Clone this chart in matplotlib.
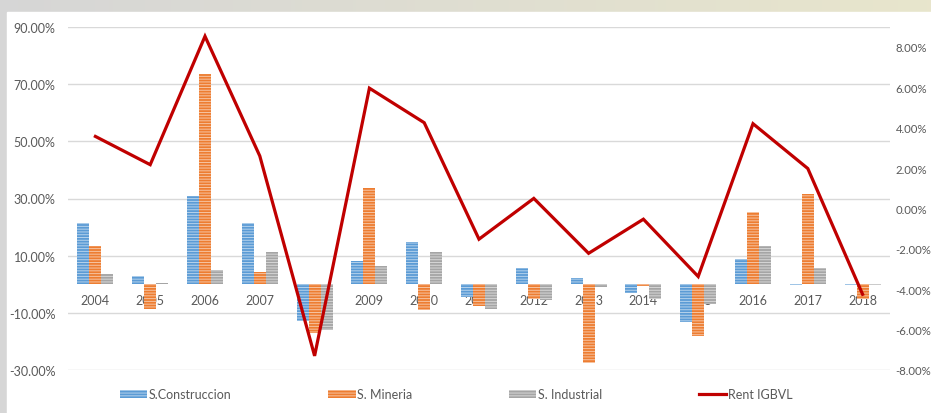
import matplotlib
matplotlib.use("Agg")
import matplotlib.pyplot as plt
import numpy as np
from matplotlib.patches import Rectangle, Patch
from matplotlib.lines import Line2D
from matplotlib.ticker import FuncFormatter

years = ["2004", "2005", "2006", "2007", "2008", "2009", "2010", "2011",
         "2012", "2013", "2014", "2015", "2016", "2017", "2018"]
construccion = [21.5, 2.9, 30.8, 21.5, -12.8, 8.3, 14.7, -4.3, 5.6, 2.2, -3.0, -13.2, 9.0, -0.3, -0.3]
mineria = [13.3, -8.5, 73.7, 4.2, -17.2, 33.8, -9.1, -7.7, -5.0, -27.6, -0.5, -18.2, 25.2, 31.4, -5.3]
industrial = [3.6, 0.5, 4.9, 11.4, -16.1, 6.3, 11.4, -8.8, -5.6, -1.0, -5.3, -6.8, 13.4, 5.6, -0.3]
rent_igbvl = [3.57, 2.17, 8.53, 2.6, -7.3, 5.96, 4.25, -1.52, 0.5, -2.22, -0.53, -3.37, 4.2, 1.98, -4.25]

series_names = ["S.Construccion", "S. Mineria", "S. Industrial", "Rent IGBVL"]
colors = ["#5B9BD5", "#ED7D31", "#A5A5A5", "#C00000"]

plt.rcParams['font.family'] = ['Lato', 'DejaVu Sans']
plt.rcParams['hatch.linewidth'] = 0.7
txt_color = "#595959"

W, H = 931, 414
fig = plt.figure(figsize=(W / 100, H / 100), dpi=100)

# background texture imitation
bg = fig.add_axes([0, 0, 1, 1], zorder=-10)
grad = np.linspace(0, 1, 256)
c1 = np.array([0.84, 0.84, 0.84])
c2 = np.array([0.91, 0.90, 0.80])
img = (c1[None, :] * (1 - grad[:, None]) + c2[None, :] * grad[:, None])[None, :, :]
bg.imshow(img, aspect='auto', extent=[0, 1, 0, 1])
bg.add_patch(Rectangle((7 / W, 0), 1, 1 - 13 / H, color='white', zorder=2))
bg.set_xlim(0, 1); bg.set_ylim(0, 1)
bg.axis('off')

ax = fig.add_axes([68 / W, 1 - 371 / H, 822 / W, 343 / H])
ax.patch.set_alpha(0)
x = np.arange(len(years))
bw = 0.22
for i, (vals, c) in enumerate(zip([construccion, mineria, industrial], colors[:3])):
    ax.bar(x + (i - 1) * bw, vals, bw, color=c, edgecolor=(1, 1, 1, 0.55),
           linewidth=0, hatch='------', zorder=3)

ax.set_ylim(-30, 90)
ax.set_yticks(np.arange(-30, 91, 20))
ax.yaxis.set_major_formatter(FuncFormatter(lambda v, p: f"{v:.2f}%"))
ax.set_xlim(-0.5, len(years) - 0.5)
ax.grid(axis='y', color='#D9D9D9', linewidth=1, zorder=0)
ax.set_axisbelow(True)
for s in ax.spines.values():
    s.set_visible(False)
ax.spines['bottom'].set_position(('data', 0))
ax.set_xticks(x)
ax.set_xticklabels(years)
ax.tick_params(axis='x', length=0, pad=7, labelsize=9, labelcolor=txt_color)
ax.tick_params(axis='y', length=0, pad=9, labelsize=9, labelcolor=txt_color)

ax2 = ax.twinx()
ax2.plot(x, rent_igbvl, color=colors[3], linewidth=2.3, zorder=5, solid_joinstyle='miter')
ax2.set_ylim(-8, 8.99)
ax2.set_yticks(np.arange(-8, 8.1, 2))
ax2.yaxis.set_major_formatter(FuncFormatter(lambda v, p: f"{v:.2f}%"))
for s in ax2.spines.values():
    s.set_visible(False)
ax2.tick_params(axis='y', length=0, pad=4, labelsize=8.2, labelcolor=txt_color)

handles = [Patch(facecolor=c, edgecolor=(1, 1, 1, 0.55), linewidth=0, hatch='------')
           for c in colors[:3]]
handles.append(Line2D([0], [0], color=colors[3], linewidth=2.3))
leg = fig.legend(handles, series_names, loc='center', bbox_to_anchor=(0.49, 1 - 395 / H),
                 ncol=4, frameon=False, fontsize=9, handlelength=2.2, handleheight=0.6,
                 handletextpad=0.15, columnspacing=7.7, labelcolor=txt_color)

fig.savefig("out.png", dpi=100)
